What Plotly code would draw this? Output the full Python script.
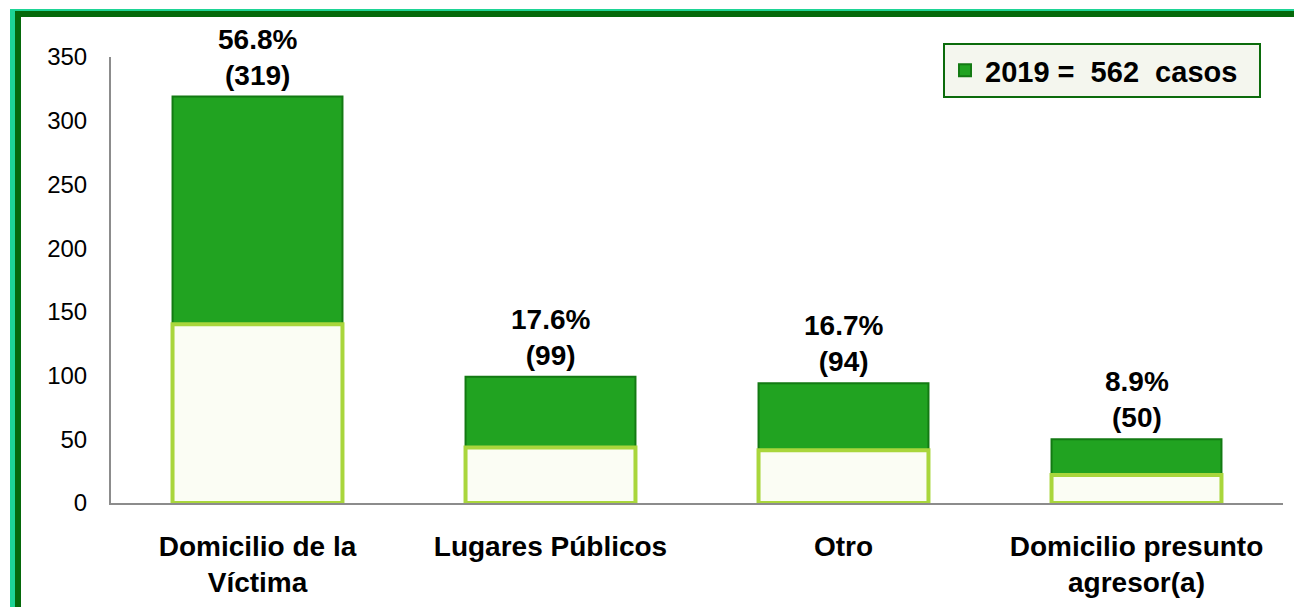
import plotly.graph_objects as go

categories = ["Domicilio de la<br>Víctima", "Lugares Públicos", "Otro", "Domicilio presunto<br>agresor(a)"]
values = [319, 99, 94, 50]
percents = ["56.8%", "17.6%", "16.7%", "8.9%"]
legend_name = "2019 =\u00a0 562\u00a0 casos\u00a0\u00a0"
y_ticks = [0, 50, 100, 150, 200, 250, 300, 350]

# style: lower pale portion of each textured bar (fraction of the bar height)
LOWER_FRAC = 0.44

# the page body has an 8px margin, so the figure is offset by 8px
OFF = 8
W, H = 1302 - OFF, 607 - OFF
L, R, T = 111 - OFF, 19, 57 - OFF
B = H - (503 - OFF)
pw, ph = W - L - R, H - T - B

def px(x):  # reference pixel -> paper
    return (x - OFF - L) / pw

def py(y):
    return (H - B - (y - OFF)) / ph

FONT = "Liberation Sans, Arial, sans-serif"

fig = go.Figure()
fig.add_trace(go.Bar(
    x=categories, y=values, name=legend_name,
    marker=dict(color="#21a321", line=dict(color="#137a13", width=2)),
    showlegend=True,
))
fig.add_trace(go.Bar(
    x=categories, y=[v * LOWER_FRAC for v in values],
    marker=dict(color="#fbfdf4", line=dict(color="#a9d63c", width=4)),
    showlegend=False, hoverinfo="skip",
))

for c, v, p in zip(categories, values, percents):
    fig.add_annotation(
        x=c, y=v, xref="x", yref="y", text=f"{p}<br>({v})",
        showarrow=False, yanchor="bottom", yshift=4,
        font=dict(family=FONT, size=28, color="black", weight="bold"),
    )

# frame border (left and top)
shapes = [
    dict(type="rect", xref="paper", yref="paper", x0=px(10), x1=px(15), y0=py(9), y1=py(620),
         fillcolor="#1dd495", line=dict(width=0), layer="above"),
    dict(type="rect", xref="paper", yref="paper", x0=px(10), x1=px(1320), y0=py(9), y1=py(11),
         fillcolor="#1dd495", line=dict(width=0), layer="above"),
    dict(type="rect", xref="paper", yref="paper", x0=px(15), x1=px(21), y0=py(11), y1=py(620),
         fillcolor="#05690a", line=dict(width=0), layer="above"),
    dict(type="rect", xref="paper", yref="paper", x0=px(15), x1=px(1320), y0=py(11), y1=py(17),
         fillcolor="#05690a", line=dict(width=0), layer="above"),
]

fig.update_layout(
    width=W, height=H,
    margin=dict(l=L, r=R, t=T, b=B, autoexpand=False),
    paper_bgcolor="white", plot_bgcolor="white",
    barmode="overlay", bargap=0.42,
    shapes=shapes,
    showlegend=True,
    legend=dict(
        x=px(1261), y=py(43), xanchor="right", yanchor="top",
        bgcolor="#f4f6ee", bordercolor="#0b6b0b", borderwidth=2,
        font=dict(family=FONT, size=29, color="black", weight="bold"),
        itemsizing="constant",
    ),
    xaxis=dict(
        showline=True, linecolor="#8c8c8c", linewidth=2, showgrid=False, zeroline=False,
        ticks="", ticklabelstandoff=17,
        tickfont=dict(family=FONT, size=28, color="black", weight="bold"),
    ),
    yaxis=dict(
        range=[0, 350], tickvals=y_ticks, showline=True, linecolor="#8c8c8c", linewidth=2,
        showgrid=False, zeroline=False, ticks="", ticklabelstandoff=17,
        tickfont=dict(family=FONT, size=24, color="black"),
    ),
)

fig.write_html("out.html")
